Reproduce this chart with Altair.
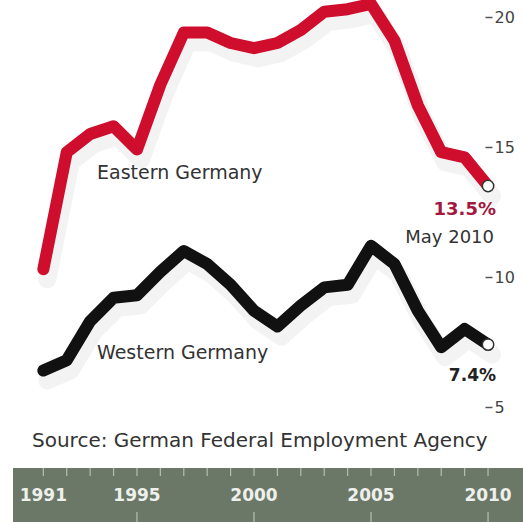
import altair as alt
import pandas as pd

years = list(range(1991, 2011))
east = [10.3, 14.8, 15.5, 15.8, 14.9, 17.4, 19.4, 19.4, 19.0, 18.8,
        19.0, 19.5, 20.2, 20.3, 20.5, 19.1, 16.6, 14.8, 14.6, 13.5]
west = [6.4, 6.8, 8.3, 9.2, 9.3, 10.2, 11.0, 10.5, 9.7, 8.7,
        8.1, 8.9, 9.6, 9.7, 11.2, 10.5, 8.7, 7.3, 8.0, 7.4]
year_labels = [1991, 1995, 2000, 2005, 2010]
y_ticks = [5, 10, 15, 20]

df = pd.DataFrame({
    "year": years * 2,
    "rate": east + west,
    "region": ["Eastern Germany"] * len(years) + ["Western Germany"] * len(years),
})
end_df = df[df["year"] == 2010]
lab_df = pd.DataFrame({"year": year_labels})
tick_df = pd.DataFrame({"year": years})

X_DOMAIN = [1989.49, 2009.87]
Y_DOMAIN = [0.577, 20.654]

xs = alt.Scale(domain=X_DOMAIN, nice=False, zero=False)
ys = alt.Scale(domain=Y_DOMAIN, nice=False, zero=False)
color = alt.Scale(domain=["Eastern Germany", "Western Germany"], range=["#cf0d2d", "#111111"])

FONT = "DejaVu Sans"

y_axis = alt.Axis(
    orient="right", values=y_ticks, tickSize=7, tickColor="#555", tickWidth=1.5,
    domain=False, grid=False, labelFont=FONT, labelFontSize=16, labelColor="#444",
    labelPadding=2, title=None,
)

band = alt.Chart(pd.DataFrame({"a": [0]})).mark_rect(color="#6b7868").encode(
    x=alt.value(5), x2=alt.value(515), y=alt.value(468), y2=alt.value(522)
)

band_ticks = alt.Chart(tick_df).mark_rule(color="#c8cfc6", strokeWidth=1.2, opacity=0.8).encode(
    x=alt.X("year:Q", scale=xs, axis=None),
    y=alt.value(468), y2=alt.value(476),
)
band_ticks_bottom = alt.Chart(lab_df[lab_df["year"] > 1991]).mark_rule(color="#c8cfc6", strokeWidth=1.2, opacity=0.8).encode(
    x=alt.X("year:Q", scale=xs, axis=None),
    y=alt.value(512), y2=alt.value(522),
)

band_labels = alt.Chart(lab_df).mark_text(
    font=FONT, fontSize=17, fontWeight="bold", color="#eef0ec", baseline="middle"
).encode(
    x=alt.X("year:Q", scale=xs, axis=None),
    y=alt.value(496),
    text=alt.Text("year:N"),
)

shadow = alt.Chart(df).mark_line(
    color="#c4c4c4", strokeWidth=18, opacity=0.2, strokeJoin="round", strokeCap="round",
    xOffset=4, yOffset=10,
).encode(
    x=alt.X("year:Q", scale=xs, axis=None),
    y=alt.Y("rate:Q", scale=ys, axis=y_axis),
    detail="region:N",
)

lines = alt.Chart(df).mark_line(strokeWidth=12, strokeJoin="round", strokeCap="round").encode(
    x=alt.X("year:Q", scale=xs, axis=None),
    y=alt.Y("rate:Q", scale=ys, axis=y_axis),
    color=alt.Color("region:N", scale=color, legend=None),
)

ends = alt.Chart(end_df).mark_point(
    filled=True, fill="white", stroke="#333", strokeWidth=1.5, size=130, opacity=1
).encode(
    x=alt.X("year:Q", scale=xs, axis=None),
    y=alt.Y("rate:Q", scale=ys, axis=y_axis),
)

def txt(s, x, y, size=18, weight="normal", col="#333", align="left"):
    return alt.Chart(pd.DataFrame({"t": [s]})).mark_text(
        font=FONT, fontSize=size, fontWeight=weight, color=col, align=align, baseline="middle"
    ).encode(x=alt.value(x), y=alt.value(y), text="t:N")

texts = [
    txt("Eastern Germany", 89, 173, 19),
    txt("Western Germany", 89, 353, 19),
    txt("13.5%", 488, 210, 18, "bold", "#a3183e", "right"),
    txt("May 2010", 486, 238, 18, "normal", "#333", "right"),
    txt("7.4%", 488, 376, 17, "bold", "#222", "right"),
    txt("Source: German Federal Employment Agency", 24, 441, 20),
]

chart = alt.layer(band, band_ticks, band_ticks_bottom, band_labels, shadow, lines, ends, *texts).properties(
    width=477, height=522,
    autosize=alt.AutoSizeParams(type="none"),
    padding={"left": 8, "right": 38, "top": 0, "bottom": 0},
    background="white",
).configure_view(stroke=None)

chart.save("out.html", embed_options={"renderer": "svg", "actions": False})
